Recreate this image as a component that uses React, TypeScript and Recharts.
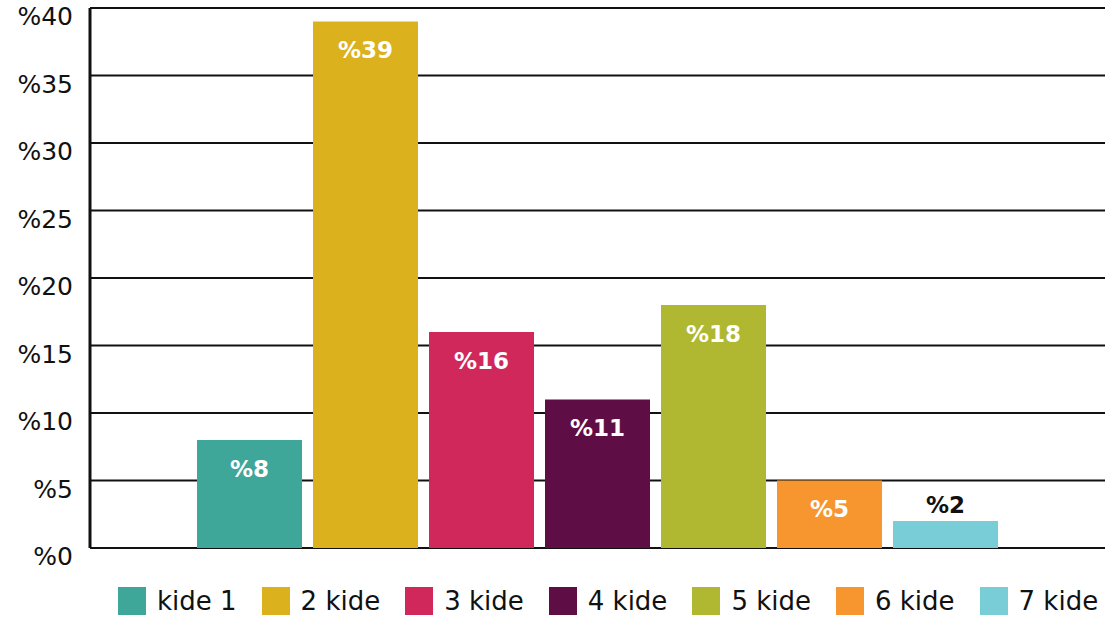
import { BarChart, Bar, XAxis, YAxis, CartesianGrid, Legend, LabelList } from 'recharts'

const categories = ['kide 1', '2 kide', '3 kide', '4 kide', '5 kide', '6 kide', '7 kide']
const values = [8, 39, 16, 11, 18, 5, 2]
const colors = ['#3FA69A', '#DBB11D', '#D1285B', '#5E0E45', '#AFB830', '#F7962F', '#79CDD7']
const yTicks = [0, 5, 10, 15, 20, 25, 30, 35, 40]

const FONT = "'DejaVu Sans', sans-serif"
const AXIS_W = 90

const row: Record<string, number | string> = { name: '' }
values.forEach((v, i) => { row['s' + i] = v })
const data = [row]

const renderYTick = (props: any) => {
  const { y, payload } = props
  return (
    <text x={AXIS_W - 17} y={y + 10} textAnchor="end" dominantBaseline="middle" fontSize={25} fill="#111" fontFamily={FONT}>
      {'%' + payload.value}
    </text>
  )
}

const BarLabel = (props: any) => {
  const { x, y, width, value } = props
  const small = value < 4
  return (
    <text
      x={x + width / 2}
      y={small ? y - 15 : y + 30}
      textAnchor="middle"
      dominantBaseline="middle"
      fontSize={23}
      fontWeight={600}
      fill={small ? '#111' : '#fff'}
      fontFamily={FONT}
    >
      {'%' + value}
    </text>
  )
}

const LegendContent = () => (
  <div style={{ display: 'flex', alignItems: 'center', height: 36, paddingLeft: 118, fontFamily: FONT, fontSize: 26, color: '#111', whiteSpace: 'nowrap' }}>
    {categories.map((c, i) => (
      <div key={c} style={{ display: 'flex', alignItems: 'center', marginRight: 25, flexShrink: 0 }}>
        <span style={{ width: 28, height: 28, background: colors[i], display: 'inline-block', marginRight: 11, flexShrink: 0 }} />
        <span>{c}</span>
      </div>
    ))}
  </div>
)

export default function App() {
  return (
    <div style={{ position: 'absolute', left: 0, top: 0, width: 1105, height: 618, background: '#fff' }}>
      <BarChart width={1105} height={618} data={data} margin={{ top: 8, right: 0, left: 0, bottom: 34 }} barSize={105} barGap={11}>
        <CartesianGrid vertical={false} stroke="#111" strokeWidth={2} />
        <XAxis dataKey="name" tick={false} height={0} axisLine={{ stroke: '#111', strokeWidth: 3 }} tickLine={false} />
        <YAxis
          width={AXIS_W}
          domain={[0, 40]}
          ticks={yTicks}
          interval={0}
          tick={renderYTick}
          tickLine={false}
          axisLine={{ stroke: '#111', strokeWidth: 3 }}
        />
        <Legend verticalAlign="bottom" height={36} wrapperStyle={{ top: 583, bottom: 'auto', left: 0, width: 1105 }} content={<LegendContent />} />
        {values.map((_, i) => (
          <Bar key={i} dataKey={'s' + i} name={categories[i]} fill={colors[i]} isAnimationActive={false}>
            <LabelList dataKey={'s' + i} content={<BarLabel />} />
          </Bar>
        ))}
      </BarChart>
    </div>
  )
}
